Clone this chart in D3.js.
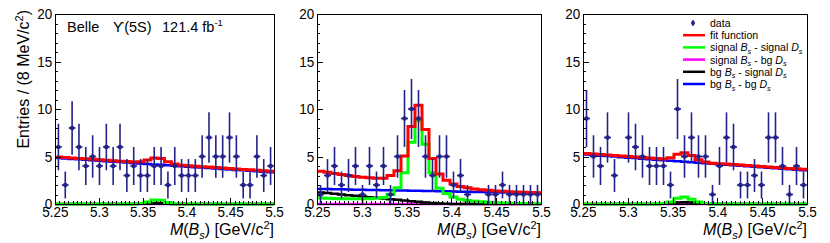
<!DOCTYPE html>
<meta charset="utf-8">
<script src="https://d3js.org/d3.v7.min.js"></script>
<style>
  body { margin: 0; background: #fff; }
  text { font-family: "Liberation Sans", Arial, sans-serif; }
</style>
<svg id="chart" width="830" height="243"></svg>
<script>

// x range and binning (32 bins from 5.25 to 5.5 GeV/c2)
var xRange = [5.25, 5.5];
var nBins = 32;
var xTicks = [5.25, 5.3, 5.35, 5.4, 5.45, 5.5];
var xTickLabels = ["5.25", "5.3", "5.35", "5.4", "5.45", "5.5"];
var yTicks = [0, 5, 10, 15, 20];
var yTickLabels = ["0", "5", "10", "15", "20"];

// data counts per bin
var data1 = [6,2,8,6,4,5,4,6,4,6,3,4,3,3,4,4,2,4,3,3,3,5,7,5,5,7,5,2,2,5,3,4];
var data2 = [1,3,4,2,3,4,1,4,2,4,1,5,9,10,9,5,3,5,5,2,3,1,0,0,1,1,2,1,1,1,1,1];
var data3 = [9,5,4,7,3,0,7,6,5,4,4,4,2,10,5,7,5,5,1,4,7,6,2,2,3,2,7,7,4,1,4,2];

// fit function (red)
var fit1 = [4.95,4.9,4.85,4.8,4.76,4.71,4.66,4.61,4.56,4.51,4.47,4.42,4.45,4.62,4.85,4.8,4.45,4.2,4.08,4.03,3.98,3.93,3.89,3.84,3.79,3.74,3.69,3.64,3.6,3.55,3.5,3.45];
var fit2 = [3.45,3.35,3.22,3.1,3.0,2.9,2.82,2.76,2.72,2.72,3.0,3.5,5.05,8.15,10.4,7.85,4.8,3.15,2.5,2.1,1.85,1.7,1.58,1.5,1.44,1.38,1.33,1.29,1.26,1.23,1.2,1.18];
var fit3 = [5.32,5.27,5.21,5.16,5.11,5.05,5.0,4.95,4.89,4.84,4.79,4.75,4.88,5.25,5.4,5.1,4.65,4.42,4.3,4.25,4.2,4.15,4.1,4.05,4.0,3.95,3.9,3.85,3.8,3.75,3.7,3.65];

// signal Bs - signal Ds (green)
var sigSig1 = [0,0,0,0,0,0,0,0,0,0,0,0.01,0.05,0.2,0.42,0.4,0.15,0.03,0,0,0,0,0,0,0,0,0,0,0,0,0,0];
var sigSig2 = [0.62,0.6,0.58,0.56,0.55,0.54,0.54,0.56,0.6,0.68,1.0,1.7,3.3,6.5,8.8,6.3,3.3,1.65,1.1,0.75,0.5,0.38,0.3,0.23,0.18,0.14,0.1,0.08,0.06,0.04,0.03,0.02];
var sigSig3 = [0,0,0,0,0,0,0,0,0,0,0,0.05,0.2,0.6,0.75,0.5,0.2,0.06,0.01,0,0,0,0,0,0,0,0,0,0,0,0,0];

// signal Bs - bg Ds (magenta)
var sigBg1 = [0,0,0,0,0,0,0,0,0,0,0,0,0,0,0,0,0,0,0,0,0,0,0,0,0,0,0,0,0,0,0,0];
var sigBg2 = [0,0,0,0,0,0,0,0,0,0,0,0,0,0,0,0,0,0,0,0,0,0,0,0,0,0,0,0,0,0,0,0];
var sigBg3 = [0,0,0,0,0,0,0,0,0,0,0,0,0,0,0,0,0,0,0,0,0,0,0,0,0,0,0,0,0,0,0,0];

// bg Bs - signal Ds (black)
var bgSig1 = [0,0,0,0,0,0,0,0,0,0,0,0,0.03,0.08,0.1,0.08,0.04,0,0,0,0,0,0,0,0,0,0,0,0,0,0,0];
var bgSig2 = [1.22,1.15,1.08,1.0,0.93,0.86,0.79,0.72,0.65,0.58,0.51,0.44,0.37,0.3,0.23,0.16,0.1,0.06,0.03,0.01,0,0,0,0,0,0,0,0,0,0,0,0];
var bgSig3 = [0,0,0,0,0,0,0,0,0,0,0,0.02,0.08,0.15,0.18,0.15,0.08,0.02,0,0,0,0,0,0,0,0,0,0,0,0,0,0];

// bg Bs - bg Ds (blue)
var bgBg1 = [4.85,4.8,4.75,4.7,4.66,4.61,4.56,4.51,4.46,4.41,4.37,4.32,4.27,4.22,4.17,4.12,4.08,4.03,3.98,3.93,3.88,3.83,3.79,3.74,3.69,3.64,3.59,3.54,3.5,3.45,3.4,3.35];
var bgBg2 = [1.58,1.57,1.55,1.54,1.52,1.51,1.5,1.48,1.47,1.45,1.44,1.43,1.41,1.4,1.39,1.37,1.36,1.34,1.33,1.32,1.3,1.29,1.27,1.26,1.25,1.23,1.22,1.2,1.19,1.18,1.16,1.15];
var bgBg3 = [5.2,5.15,5.09,5.04,4.99,4.93,4.88,4.83,4.77,4.72,4.67,4.61,4.56,4.51,4.45,4.4,4.35,4.3,4.24,4.19,4.14,4.08,4.03,3.98,3.92,3.87,3.82,3.76,3.71,3.66,3.6,3.55];

var legendLabels = ["data", "fit function", "signal|signal", "signal|bg", "bg|signal", "bg|bg"];

// layout
var panelLeft = [55, 317, 583];
var panelRight = [274, 541, 807];
var plotTop = 14, plotBottom = 204;
var dataColor = "#22228a";
var green = "#00ff00";

var panels = [
  {data: data1, fit: fit1, ss: sigSig1, sb: sigBg1, bs: bgSig1, bb: bgBg1},
  {data: data2, fit: fit2, ss: sigSig2, sb: sigBg2, bs: bgSig2, bb: bgBg2},
  {data: data3, fit: fit3, ss: sigSig3, sb: sigBg3, bs: bgSig3, bb: bgBg3}
];

var svg = d3.select("#chart");
svg.append("rect").attr("width", 830).attr("height", 243).attr("fill", "#fff");

var binW = (xRange[1] - xRange[0]) / nBins;
var edges = d3.range(nBins).map(function(i) { return xRange[0] + i * binW; });

function stepPoints(vals) {
  var pts = vals.map(function(v, i) { return [edges[i], v]; });
  pts.push([xRange[1], vals[nBins - 1]]);
  return pts;
}

panels.forEach(function(p, k) {
  var x = d3.scaleLinear().domain(xRange).range([panelLeft[k], panelRight[k]]);
  var y = d3.scaleLinear().domain([0, 20]).range([plotBottom, plotTop]);
  var g = svg.append("g");

  var line = d3.line()
    .x(function(d) { return x(d[0]); })
    .y(function(d) { return y(d[1]); })
    .curve(d3.curveStepAfter);

  // components, back to front
  var comps = [
    {vals: p.sb, color: "#ff00ff", w: 2.5},
    {vals: p.bs, color: "#000000", w: 2.5},
    {vals: p.bb, color: "#0000ff", w: 2.5},
    {vals: p.ss, color: green, w: 3},
    {vals: p.fit, color: "#ff0000", w: 3}
  ];
  comps.forEach(function(c) {
    g.append("path")
      .attr("d", line(stepPoints(c.vals)))
      .attr("fill", "none")
      .attr("stroke", c.color)
      .attr("stroke-width", c.w);
  });

  // data points with sqrt(n) errors
  var pts = p.data.map(function(n, i) { return {x: edges[i] + binW / 2, n: n}; })
    .filter(function(d) { return d.n > 0; });
  var pg = g.selectAll(".pt").data(pts).join("g").attr("class", "pt");
  pg.append("line")
    .attr("x1", function(d) { return x(d.x); })
    .attr("x2", function(d) { return x(d.x); })
    .attr("y1", function(d) { return y(d.n - Math.sqrt(d.n)); })
    .attr("y2", function(d) { return y(d.n + Math.sqrt(d.n)); })
    .attr("stroke", dataColor).attr("stroke-width", 1.6);
  pg.append("line")
    .attr("x1", function(d) { return x(d.x - binW / 2); })
    .attr("x2", function(d) { return x(d.x + binW / 2); })
    .attr("y1", function(d) { return y(d.n); })
    .attr("y2", function(d) { return y(d.n); })
    .attr("stroke", dataColor).attr("stroke-width", 1.6);
  pg.append("circle")
    .attr("cx", function(d) { return x(d.x); })
    .attr("cy", function(d) { return y(d.n); })
    .attr("r", 2.3)
    .attr("fill", dataColor);

  // frame
  g.append("rect")
    .attr("x", x(xRange[0])).attr("y", y(20))
    .attr("width", x(xRange[1]) - x(xRange[0]))
    .attr("height", y(0) - y(20))
    .attr("fill", "none").attr("stroke", "#000").attr("stroke-width", 1)
    .attr("shape-rendering", "crispEdges");

  // y axis: major + minor ticks pointing inwards
  var yAxis = g.append("g").attr("transform", "translate(" + x(xRange[0]) + ",0)")
    .call(d3.axisLeft(y).tickValues(yTicks).tickSize(-6).tickSizeOuter(0).tickPadding(3)
      .tickFormat(function(d, i) { return yTickLabels[i]; }));
  g.append("g").attr("transform", "translate(" + x(xRange[0]) + ",0)")
    .call(d3.axisLeft(y).tickValues(d3.range(0, 21, 1)).tickSize(-3).tickFormat(""))
    .select(".domain").remove();

  // x axis
  var xAxis = g.append("g").attr("transform", "translate(0," + y(0) + ")")
    .call(d3.axisBottom(x).tickValues(xTicks).tickSize(-6).tickSizeOuter(0).tickPadding(2)
      .tickFormat(function(d, i) { return xTickLabels[i]; }));
  g.append("g").attr("transform", "translate(0," + y(0) + ")")
    .call(d3.axisBottom(x).tickValues(d3.range(0, 51).map(function(i) { return xRange[0] + i * 0.005; }))
      .tickSize(-3).tickFormat(""))
    .select(".domain").remove();

  g.selectAll(".tick line").attr("stroke", "#000").attr("shape-rendering", "crispEdges");
  [yAxis, xAxis].forEach(function(a) {
    a.selectAll("text").attr("font-size", 15).attr("fill", "#000")
      .attr("font-family", "'Liberation Sans', Arial, sans-serif")
      .attr("transform", "scale(0.9,1)");
  });

  // x title
  var xt = g.append("text")
    .attr("x", x(xRange[1])).attr("y", 235)
    .attr("text-anchor", "end").attr("font-size", 16);
  xt.append("tspan").attr("font-style", "italic").text("M");
  xt.append("tspan").text("(");
  xt.append("tspan").attr("font-style", "italic").text("B");
  xt.append("tspan").attr("font-style", "italic").attr("font-size", 11).attr("dy", 4).text("s");
  xt.append("tspan").attr("dy", -4).text(") [GeV/c");
  xt.append("tspan").attr("font-size", 11).attr("dy", -6).text("2");
  xt.append("tspan").attr("dy", 6).text("]");

  if (k === 0) {
    // y title
    var yt = g.append("text")
      .attr("transform", "translate(29,10) rotate(-90)")
      .attr("text-anchor", "end").attr("font-size", 16);
    yt.append("tspan").text("Entries / (8 MeV/c");
    yt.append("tspan").attr("font-size", 11).attr("dy", -6).text("2");
    yt.append("tspan").attr("dy", 6).text(")");

    // experiment label
    var lab = g.append("g").attr("transform", "translate(67,32)");
    lab.append("text").attr("x", 0).attr("font-size", 14.5).text("Belle");
    lab.append("text").attr("x", 46).attr("font-size", 14.5).text("\u03D2(5S)");
    lab.append("text").attr("x", 95).attr("font-size", 14.5)
      .call(function(t) {
        t.append("tspan").text("121.4 fb");
        t.append("tspan").attr("font-size", 9.5).attr("dy", -6).text("-1");
      });
  }

  if (k === 2) {
    // legend
    var colors = [dataColor, "#ff0000", green, "#ff00ff", "#000000", "#0000ff"];
    var lg = svg.append("g");
    legendLabels.forEach(function(lbl, i) {
      var ly = 23 + i * 12.2;
      if (i === 0) {
        lg.append("line").attr("x1", 693).attr("x2", 693).attr("y1", ly - 3).attr("y2", ly + 3)
          .attr("stroke", dataColor).attr("stroke-width", 1.5);
        lg.append("circle").attr("cx", 693).attr("cy", ly).attr("r", 2).attr("fill", dataColor);
      } else {
        lg.append("line").attr("x1", 683).attr("x2", 705).attr("y1", ly).attr("y2", ly)
          .attr("stroke", colors[i]).attr("stroke-width", 2.5);
      }
      var t = lg.append("text").attr("transform", "translate(710," + (ly + 4) + ") scale(0.92,1)")
        .attr("font-size", 11.5);
      if (i < 2) {
        t.text(lbl);
      } else {
        var parts = lbl.split("|");
        t.append("tspan").text(parts[0] + " ");
        t.append("tspan").attr("font-style", "italic").text("B");
        t.append("tspan").attr("font-style", "italic").attr("font-size", 8).attr("dy", 2.5).text("s");
        t.append("tspan").attr("dy", -2.5).text(" - " + parts[1] + " ");
        t.append("tspan").attr("font-style", "italic").text("D");
        t.append("tspan").attr("font-style", "italic").attr("font-size", 8).attr("dy", 2.5).text("s");
      }
    });
  }
});

</script>
